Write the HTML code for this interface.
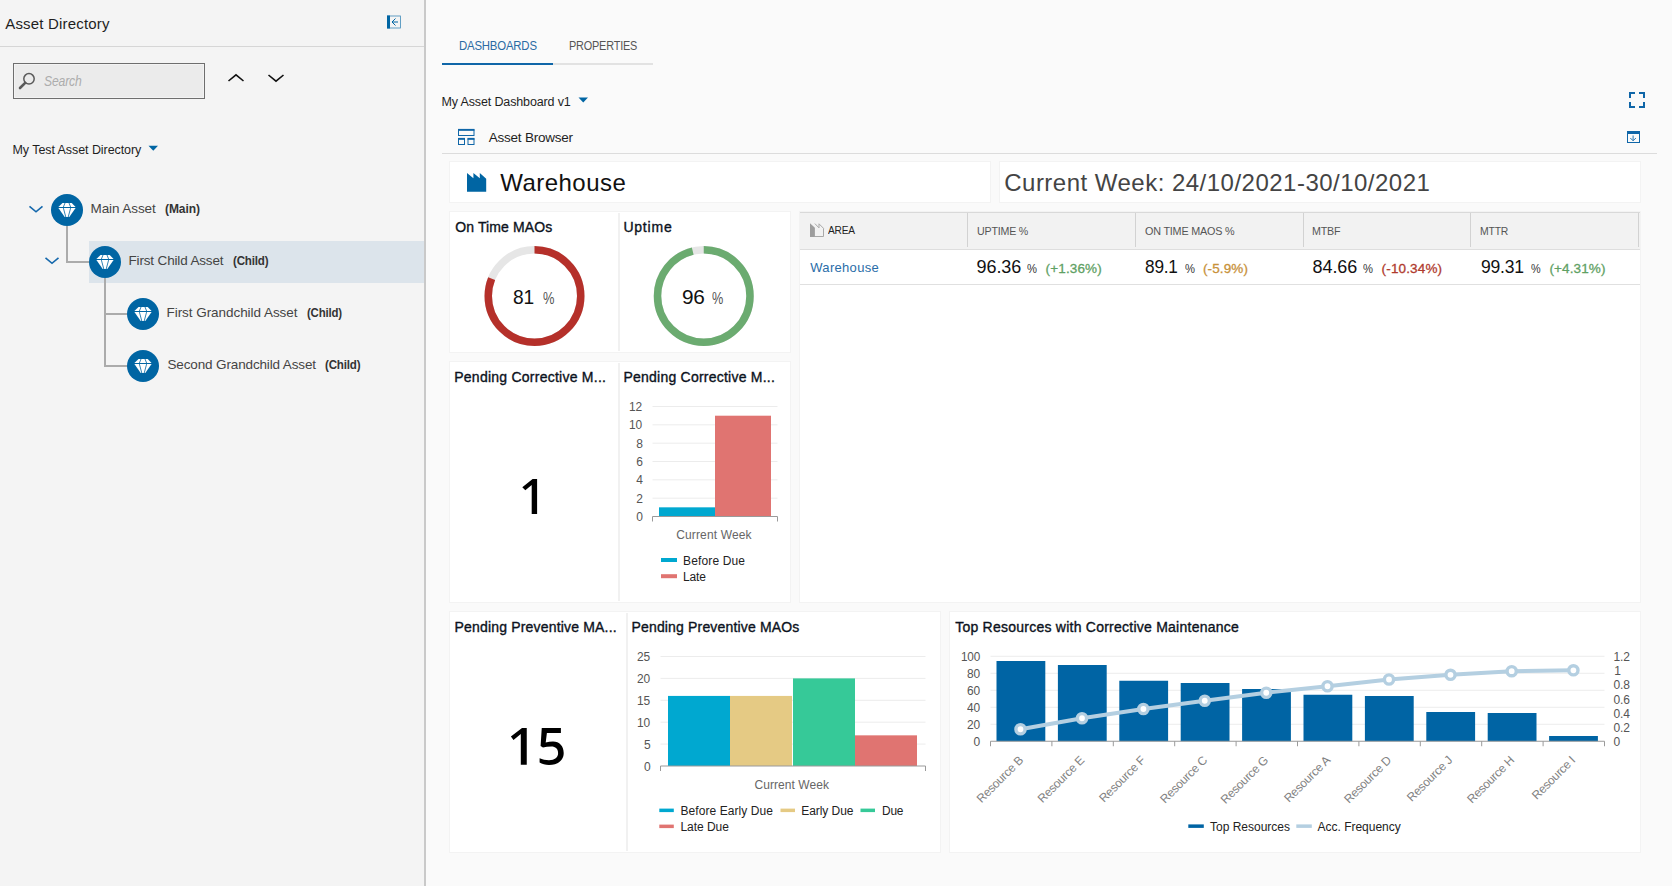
<!DOCTYPE html>
<html><head><meta charset="utf-8"><title>Asset Directory</title>
<style>
html,body{margin:0;padding:0}
body{width:1672px;height:886px;position:relative;overflow:hidden;background:#fafafa;font-family:"Liberation Sans", sans-serif}
.t{position:absolute;white-space:pre;margin:0;padding:0}
.b{position:absolute}
.card{position:absolute;background:#fff;box-sizing:border-box;border:1px solid #f3f3f3}
</style></head><body>
<div class="b" style="left:0;top:0;width:424px;height:886px;background:#f4f4f4"></div>
<div class="b" style="left:424px;top:0;width:2px;height:886px;background:#c9c9c9"></div>
<div class="b" style="left:0;top:46px;width:424px;height:1px;background:#d6d6d6"></div>
<div class="b" style="left:13px;top:63px;width:192px;height:36px;box-sizing:border-box;border:1px solid #6e6e6e;background:#ebebeb;box-shadow:inset 0 0 0 1px #f3f3f3"></div>
<div class="b" style="left:89px;top:241px;width:335px;height:42px;background:#dce4eb"></div>
<div class="b" style="left:442px;top:63px;width:111px;height:2px;background:#0f66a8"></div>
<div class="b" style="left:553px;top:63px;width:100px;height:2px;background:#e2e2e2"></div>
<div class="b" style="left:442px;top:153px;width:1215px;height:1px;background:#dcdcdc"></div>
<div class="card" style="left:449px;top:161px;width:542px;height:42px"></div>
<div class="card" style="left:999px;top:161px;width:642px;height:42px"></div>
<div class="card" style="left:449px;top:211px;width:342px;height:142px"></div>
<div class="card" style="left:799px;top:211px;width:842px;height:392px"></div>
<div class="card" style="left:449px;top:361px;width:342px;height:242px"></div>
<div class="card" style="left:449px;top:611px;width:492px;height:242px"></div>
<div class="card" style="left:949px;top:611px;width:692px;height:242px"></div>
<div class="b" style="left:618px;top:213px;width:2px;height:138px;background:#f1f1f1"></div>
<div class="b" style="left:618px;top:363px;width:2px;height:238px;background:#f1f1f1"></div>
<div class="b" style="left:626px;top:613px;width:2px;height:238px;background:#f1f1f1"></div>
<div class="b" style="left:800px;top:212px;width:840px;height:1px;background:#d9d9d9"></div>
<div class="b" style="left:800px;top:213px;width:840px;height:36px;background:#f2f2f2"></div>
<div class="b" style="left:800px;top:249px;width:840px;height:1px;background:#dedede"></div>
<div class="b" style="left:800px;top:284px;width:840px;height:1px;background:#e0e0e0"></div>
<div class="b" style="left:967px;top:213px;width:1px;height:34px;background:#d2d2d2"></div>
<div class="b" style="left:1135px;top:213px;width:1px;height:34px;background:#d2d2d2"></div>
<div class="b" style="left:1303px;top:213px;width:1px;height:34px;background:#d2d2d2"></div>
<div class="b" style="left:1470px;top:213px;width:1px;height:34px;background:#d2d2d2"></div>
<div class="b" style="left:1638px;top:213px;width:1px;height:34px;background:#d2d2d2"></div>
<svg class="b" style="left:0;top:0" width="1672" height="886" viewBox="0 0 1672 886">
<g fill="none" stroke="#0065a3"><rect x="387.5" y="16" width="13" height="12" stroke-width="0.8" opacity="0.75"/><rect x="387" y="15.5" width="3" height="13" fill="#0065a3" stroke="none"/><path d="M398 22H392.5M395.5 18.5L392 22L395.5 25.5" stroke-width="1"/></g>
<g fill="none" stroke="#5a5a5a" stroke-linecap="round"><circle cx="29" cy="78.8" r="5.2" stroke-width="1.5"/><path d="M25.2 82.8L20 88" stroke-width="2.6"/></g>
<path d="M228.5 81L236 74.8L243.5 81" fill="none" stroke="#111" stroke-width="1.6"/>
<path d="M268.5 75L276 81.2L283.5 75" fill="none" stroke="#111" stroke-width="1.6"/>
<path d="M148.5 145.8H158L153.25 150.8Z" fill="#0065a3"/>
<path d="M578.5 97.5H588L583.25 102.5Z" fill="#0065a3"/>
<g fill="none" stroke="#ababab" stroke-width="2"><path d="M67 226V262H89"/><path d="M105 278V366H127M105 314H127"/></g>
<g fill="none" stroke="#1568ac" stroke-width="1.6"><path d="M29.5 206.3L36 211.8L42.5 206.3"/><path d="M45.5 257.8L52 263.3L58.5 257.8"/></g>
<circle cx="67" cy="210" r="16" fill="#0065a3"/>
<g transform="translate(0 0)" fill="#fff"><path d="M62.5 203H71.7L75.6 207H58.4Z"/><path d="M58.4 208.1H75.6L69.3 217.1H64.7Z"/><g stroke="#0065a3" stroke-width="0.9" fill="none" opacity="0.9"><path d="M65 203L63.4 207M69 203L70.6 207M63.4 208.1L65.8 217.1M70.6 208.1L68.2 217.1"/></g></g>
<circle cx="105" cy="262" r="16" fill="#0065a3"/>
<g transform="translate(38 52)" fill="#fff"><path d="M62.5 203H71.7L75.6 207H58.4Z"/><path d="M58.4 208.1H75.6L69.3 217.1H64.7Z"/><g stroke="#0065a3" stroke-width="0.9" fill="none" opacity="0.9"><path d="M65 203L63.4 207M69 203L70.6 207M63.4 208.1L65.8 217.1M70.6 208.1L68.2 217.1"/></g></g>
<circle cx="143" cy="314" r="16" fill="#0065a3"/>
<g transform="translate(76 104)" fill="#fff"><path d="M62.5 203H71.7L75.6 207H58.4Z"/><path d="M58.4 208.1H75.6L69.3 217.1H64.7Z"/><g stroke="#0065a3" stroke-width="0.9" fill="none" opacity="0.9"><path d="M65 203L63.4 207M69 203L70.6 207M63.4 208.1L65.8 217.1M70.6 208.1L68.2 217.1"/></g></g>
<circle cx="143" cy="366" r="16" fill="#0065a3"/>
<g transform="translate(76 156)" fill="#fff"><path d="M62.5 203H71.7L75.6 207H58.4Z"/><path d="M58.4 208.1H75.6L69.3 217.1H64.7Z"/><g stroke="#0065a3" stroke-width="0.9" fill="none" opacity="0.9"><path d="M65 203L63.4 207M69 203L70.6 207M63.4 208.1L65.8 217.1M70.6 208.1L68.2 217.1"/></g></g>
<g fill="none" stroke="#0f66a8" stroke-width="2"><path d="M1630 98V93H1635M1639 93H1644V98M1644 102V107H1639M1635 107H1630V102"/></g>
<g fill="none" stroke="#0f66a8"><rect x="1627.5" y="131.5" width="12" height="11" stroke-width="1"/><rect x="1627" y="131" width="13" height="3" fill="#0f66a8" stroke="none"/><path d="M1633.1 135.5V140.5M1630.3 138L1633.1 140.8L1635.9 138" stroke-width="0.9"/></g>
<g fill="none" stroke="#0f66a8" stroke-width="1"><rect x="458.5" y="130" width="15.5" height="5.5"/><path d="M458 129.8H474.5" stroke-width="1.8"/><rect x="458.5" y="139" width="6" height="5.5"/><path d="M458 138.8H465" stroke-width="1.8"/><rect x="468" y="139" width="6" height="5.5"/><path d="M467.5 138.8H474.5" stroke-width="1.8"/></g>
<path d="M467 173L473.4 178.2V173L479.8 178.2V173L486.2 178.8V191.8H467Z" fill="#0065a3"/>
<path d="M814.9 223.6L819 227.9V223.8L823.5 228.3V236.5H814.5" fill="none" stroke="#a9a9a9" stroke-width="1"/><path d="M810 223.3L814.9 227.8V237H810Z" fill="#9d9d9d"/>
<circle cx="534.5" cy="296" r="46.25" fill="none" stroke="#e6e6e6" stroke-width="7.5"/>
<circle cx="534.5" cy="296" r="46.25" fill="none" stroke="#b5302a" stroke-width="7.5" stroke-dasharray="235.38 290.60" transform="rotate(-90 534.5 296)"/>
<circle cx="703.75" cy="296" r="46.25" fill="none" stroke="#e6e6e6" stroke-width="7.5"/>
<circle cx="703.75" cy="296" r="46.25" fill="none" stroke="#6bab70" stroke-width="7.5" stroke-dasharray="278.97 290.60" transform="rotate(-90 703.75 296)"/>
<path d="M652.5 498.17H777.5" stroke="#ececec" stroke-width="1"/>
<path d="M652.5 479.83H777.5" stroke="#ececec" stroke-width="1"/>
<path d="M652.5 461.50H777.5" stroke="#ececec" stroke-width="1"/>
<path d="M652.5 443.17H777.5" stroke="#ececec" stroke-width="1"/>
<path d="M652.5 424.83H777.5" stroke="#ececec" stroke-width="1"/>
<path d="M652.5 406.50H777.5" stroke="#ececec" stroke-width="1"/>
<rect x="659" y="507.33" width="56" height="9.17" fill="#00a8d0"/>
<rect x="715" y="415.70" width="56" height="100.8" fill="#e07471"/>
<path d="M652.5 521.5V516.5H777.5V521.5" fill="none" stroke="#9a9a9a" stroke-width="1"/>
<rect x="661" y="558" width="16" height="4" fill="#00a8d0"/><rect x="661" y="574.2" width="16" height="4" fill="#e07471"/>
<path d="M660.5 744.10H925.5" stroke="#ececec" stroke-width="1"/>
<path d="M660.5 722.20H925.5" stroke="#ececec" stroke-width="1"/>
<path d="M660.5 700.30H925.5" stroke="#ececec" stroke-width="1"/>
<path d="M660.5 678.40H925.5" stroke="#ececec" stroke-width="1"/>
<path d="M660.5 656.50H925.5" stroke="#ececec" stroke-width="1"/>
<rect x="668" y="695.92" width="62" height="70.08" fill="#00a8d0"/>
<rect x="730" y="695.92" width="62" height="70.08" fill="#e5ca84"/>
<rect x="793" y="678.40" width="62" height="87.60" fill="#36c998"/>
<rect x="855" y="735.34" width="62" height="30.66" fill="#e07471"/>
<path d="M660.5 771V766H925.5V771" fill="none" stroke="#9a9a9a" stroke-width="1"/>
<rect x="659.3" y="808.6" width="14.5" height="3.5" fill="#00a8d0"/><rect x="780.5" y="808.6" width="14.5" height="3.5" fill="#e5ca84"/><rect x="860.5" y="808.6" width="14.5" height="3.5" fill="#36c998"/><rect x="659.3" y="824.6" width="14.5" height="3.5" fill="#e07471"/>
<path d="M990.5 724.25H1604.5" stroke="#ececec" stroke-width="1"/>
<path d="M990.5 707.25H1604.5" stroke="#ececec" stroke-width="1"/>
<path d="M990.5 690.25H1604.5" stroke="#ececec" stroke-width="1"/>
<path d="M990.5 673.25H1604.5" stroke="#ececec" stroke-width="1"/>
<path d="M990.5 656.25H1604.5" stroke="#ececec" stroke-width="1"/>
<rect x="996.50" y="661" width="48.8" height="80.25" fill="#0064a4"/>
<rect x="1057.90" y="665" width="48.8" height="76.25" fill="#0064a4"/>
<rect x="1119.30" y="680.75" width="48.8" height="60.50" fill="#0064a4"/>
<rect x="1180.70" y="683" width="48.8" height="58.25" fill="#0064a4"/>
<rect x="1242.10" y="689" width="48.8" height="52.25" fill="#0064a4"/>
<rect x="1303.50" y="694.75" width="48.8" height="46.50" fill="#0064a4"/>
<rect x="1364.90" y="696" width="48.8" height="45.25" fill="#0064a4"/>
<rect x="1426.30" y="712" width="48.8" height="29.25" fill="#0064a4"/>
<rect x="1487.70" y="713" width="48.8" height="28.25" fill="#0064a4"/>
<rect x="1549.10" y="736" width="48.8" height="5.25" fill="#0064a4"/>
<path d="M990.5 741.25H1604.5M990.50 741.25v5M1051.90 741.25v5M1113.30 741.25v5M1174.70 741.25v5M1236.10 741.25v5M1297.50 741.25v5M1358.90 741.25v5M1420.30 741.25v5M1481.70 741.25v5M1543.10 741.25v5M1604.50 741.25v5" fill="none" stroke="#9a9a9a" stroke-width="1"/>
<polyline points="1020.5,729.25 1082,718.25 1143.4,709 1204.75,700.75 1266.25,692.75 1327.5,686.25 1389,679.5 1450.5,674.8 1511.7,671.2 1573.4,670.3" fill="none" stroke="#b4cfe1" stroke-width="4" stroke-linejoin="round"/>
<circle cx="1020.5" cy="729.25" r="4.6" fill="#fff" stroke="#b4cfe1" stroke-width="3.4"/>
<circle cx="1082" cy="718.25" r="4.6" fill="#fff" stroke="#b4cfe1" stroke-width="3.4"/>
<circle cx="1143.4" cy="709" r="4.6" fill="#fff" stroke="#b4cfe1" stroke-width="3.4"/>
<circle cx="1204.75" cy="700.75" r="4.6" fill="#fff" stroke="#b4cfe1" stroke-width="3.4"/>
<circle cx="1266.25" cy="692.75" r="4.6" fill="#fff" stroke="#b4cfe1" stroke-width="3.4"/>
<circle cx="1327.5" cy="686.25" r="4.6" fill="#fff" stroke="#b4cfe1" stroke-width="3.4"/>
<circle cx="1389" cy="679.5" r="4.6" fill="#fff" stroke="#b4cfe1" stroke-width="3.4"/>
<circle cx="1450.5" cy="674.8" r="4.6" fill="#fff" stroke="#b4cfe1" stroke-width="3.4"/>
<circle cx="1511.7" cy="671.2" r="4.6" fill="#fff" stroke="#b4cfe1" stroke-width="3.4"/>
<circle cx="1573.4" cy="670.3" r="4.6" fill="#fff" stroke="#b4cfe1" stroke-width="3.4"/>
<rect x="1188.3" y="824.4" width="15.5" height="3.5" fill="#0064a4"/><rect x="1296.3" y="824.4" width="15.5" height="3.5" fill="#b4cfe1"/>
<path d="M531.7 514V484.9L525.3 490.2L522.3 487.3L532.6 479H537.1V514Z" fill="#000"/>
<path d="M520.8 764.8V734.1L513.5 740L510.9 736.5L522 728H526.75V764.8Z" fill="#000"/>
<path d="M541.76 728H560.9V732.9H546.9L545.7 742.4C548 741.8 550.5 741.5 553 741.5C559.5 741.5 563.7 746 563.7 753.1C563.7 760.5 558 765 549 765C545.3 765 542 764.2 539.6 762.6V758.2C542.2 759.5 545.8 760.2 549 760.2C554.8 760.2 558.1 757.8 558.1 753.1C558.1 748.8 555.5 746.5 551.3 746.5C548.3 746.5 545.5 746.9 542.95 747.55L540.6 745.95Z" fill="#000"/>
</svg>
<div class="t" style="left:823.50px;top:750.00px;width:200px;text-align:right;font-size:12px;line-height:14px;color:#828282;transform:rotate(-45deg);transform-origin:100% 11px;letter-spacing:-0.25px">Resource B</div>
<div class="t" style="left:884.90px;top:750.00px;width:200px;text-align:right;font-size:12px;line-height:14px;color:#828282;transform:rotate(-45deg);transform-origin:100% 11px;letter-spacing:-0.25px">Resource E</div>
<div class="t" style="left:946.30px;top:750.00px;width:200px;text-align:right;font-size:12px;line-height:14px;color:#828282;transform:rotate(-45deg);transform-origin:100% 11px;letter-spacing:-0.25px">Resource F</div>
<div class="t" style="left:1007.70px;top:750.00px;width:200px;text-align:right;font-size:12px;line-height:14px;color:#828282;transform:rotate(-45deg);transform-origin:100% 11px;letter-spacing:-0.25px">Resource C</div>
<div class="t" style="left:1069.10px;top:750.00px;width:200px;text-align:right;font-size:12px;line-height:14px;color:#828282;transform:rotate(-45deg);transform-origin:100% 11px;letter-spacing:-0.25px">Resource G</div>
<div class="t" style="left:1130.50px;top:750.00px;width:200px;text-align:right;font-size:12px;line-height:14px;color:#828282;transform:rotate(-45deg);transform-origin:100% 11px;letter-spacing:-0.25px">Resource A</div>
<div class="t" style="left:1191.90px;top:750.00px;width:200px;text-align:right;font-size:12px;line-height:14px;color:#828282;transform:rotate(-45deg);transform-origin:100% 11px;letter-spacing:-0.25px">Resource D</div>
<div class="t" style="left:1253.30px;top:750.00px;width:200px;text-align:right;font-size:12px;line-height:14px;color:#828282;transform:rotate(-45deg);transform-origin:100% 11px;letter-spacing:-0.25px">Resource J</div>
<div class="t" style="left:1314.70px;top:750.00px;width:200px;text-align:right;font-size:12px;line-height:14px;color:#828282;transform:rotate(-45deg);transform-origin:100% 11px;letter-spacing:-0.25px">Resource H</div>
<div class="t" style="left:1376.10px;top:750.00px;width:200px;text-align:right;font-size:12px;line-height:14px;color:#828282;transform:rotate(-45deg);transform-origin:100% 11px;letter-spacing:-0.25px">Resource I</div>
<div class="t" style="left:5.20px;top:15.00px;font-size:15px;line-height:17px;font-weight:400;font-style:normal;color:#1f1f1f;letter-spacing:0.186px;">Asset Directory</div>
<div class="t" style="left:44.20px;top:73.00px;font-size:14px;line-height:16px;font-weight:400;font-style:italic;color:#adadad;letter-spacing:-0.200px;transform:scaleX(0.8698);transform-origin:0 0;">Search</div>
<div class="t" style="left:12.50px;top:143.00px;font-size:12.5px;line-height:14px;font-weight:400;font-style:normal;color:#1f1f1f;letter-spacing:-0.069px;">My Test Asset Directory</div>
<div class="t" style="left:90.50px;top:201.00px;font-size:13.5px;line-height:15px;font-weight:400;font-style:normal;color:#444;letter-spacing:-0.086px;">Main Asset</div>
<div class="t" style="left:165.00px;top:202.00px;font-size:12px;line-height:14px;font-weight:700;font-style:normal;color:#333;letter-spacing:-0.066px;">(Main)</div>
<div class="t" style="left:128.50px;top:253.00px;font-size:13.5px;line-height:15px;font-weight:400;font-style:normal;color:#444;letter-spacing:-0.157px;">First Child Asset</div>
<div class="t" style="left:233.00px;top:254.00px;font-size:12px;line-height:14px;font-weight:700;font-style:normal;color:#333;letter-spacing:-0.200px;transform:scaleX(0.9649);transform-origin:0 0;">(Child)</div>
<div class="t" style="left:166.50px;top:305.00px;font-size:13.5px;line-height:15px;font-weight:400;font-style:normal;color:#444;letter-spacing:-0.050px;">First Grandchild Asset</div>
<div class="t" style="left:307.00px;top:306.00px;font-size:12px;line-height:14px;font-weight:700;font-style:normal;color:#333;letter-spacing:-0.200px;transform:scaleX(0.9513);transform-origin:0 0;">(Child)</div>
<div class="t" style="left:167.50px;top:357.00px;font-size:13.5px;line-height:15px;font-weight:400;font-style:normal;color:#444;letter-spacing:-0.140px;">Second Grandchild Asset</div>
<div class="t" style="left:325.00px;top:358.00px;font-size:12px;line-height:14px;font-weight:700;font-style:normal;color:#333;letter-spacing:-0.200px;transform:scaleX(0.9649);transform-origin:0 0;">(Child)</div>
<div class="t" style="left:458.50px;top:39.00px;font-size:12px;line-height:14px;font-weight:400;font-style:normal;color:#2b6ba3;letter-spacing:-0.200px;transform:scaleX(0.9487);transform-origin:0 0;">DASHBOARDS</div>
<div class="t" style="left:569.00px;top:39.00px;font-size:12px;line-height:14px;font-weight:400;font-style:normal;color:#555;letter-spacing:-0.200px;transform:scaleX(0.9067);transform-origin:0 0;">PROPERTIES</div>
<div class="t" style="left:441.50px;top:95.00px;font-size:12.5px;line-height:14px;font-weight:400;font-style:normal;color:#1f1f1f;letter-spacing:-0.137px;">My Asset Dashboard v1</div>
<div class="t" style="left:488.80px;top:130.00px;font-size:13.5px;line-height:15px;font-weight:400;font-style:normal;color:#1f1f1f;letter-spacing:-0.236px;">Asset Browser</div>
<div class="t" style="left:500.25px;top:169.00px;font-size:24px;line-height:27px;font-weight:400;font-style:normal;color:#111;letter-spacing:0.457px;">Warehouse</div>
<div class="t" style="left:1004.25px;top:169.00px;font-size:24px;line-height:27px;font-weight:400;font-style:normal;color:#444;letter-spacing:0.483px;">Current Week: 24/10/2021-30/10/2021</div>
<div class="t" style="left:455.25px;top:219.00px;font-size:14px;line-height:16px;font-weight:400;font-style:normal;color:#0c1220;letter-spacing:0.119px;-webkit-text-stroke:0.35px currentColor;">On Time MAOs</div>
<div class="t" style="left:623.40px;top:219.00px;font-size:14px;line-height:16px;font-weight:400;font-style:normal;color:#0c1220;letter-spacing:0.788px;-webkit-text-stroke:0.35px currentColor;">Uptime</div>
<div class="t" style="left:512.50px;top:285.00px;font-size:21px;line-height:23px;font-weight:400;font-style:normal;color:#111;letter-spacing:-0.200px;transform:scaleX(0.9120);transform-origin:0 0;">81</div>
<div class="t" style="left:542.75px;top:290.00px;font-size:16px;line-height:17px;font-weight:400;font-style:normal;color:#555;letter-spacing:0.000px;transform:scaleX(0.804);transform-origin:0 0;">%</div>
<div class="t" style="left:681.50px;top:285.00px;font-size:21px;line-height:23px;font-weight:400;font-style:normal;color:#111;letter-spacing:-0.200px;transform:scaleX(0.9898);transform-origin:0 0;">96</div>
<div class="t" style="left:711.90px;top:290.00px;font-size:16px;line-height:17px;font-weight:400;font-style:normal;color:#555;letter-spacing:0.000px;transform:scaleX(0.793);transform-origin:0 0;">%</div>
<div class="t" style="left:828.00px;top:224.00px;font-size:10.5px;line-height:12px;font-weight:400;font-style:normal;color:#222;letter-spacing:-0.200px;transform:scaleX(0.9646);transform-origin:0 0;">AREA</div>
<div class="t" style="left:976.50px;top:225.00px;font-size:11px;line-height:12px;font-weight:400;font-style:normal;color:#555;letter-spacing:-0.200px;transform:scaleX(0.9678);transform-origin:0 0;">UPTIME %</div>
<div class="t" style="left:1144.50px;top:225.00px;font-size:11px;line-height:12px;font-weight:400;font-style:normal;color:#555;letter-spacing:-0.200px;transform:scaleX(0.9811);transform-origin:0 0;">ON TIME MAOS %</div>
<div class="t" style="left:1311.60px;top:225.00px;font-size:11px;line-height:12px;font-weight:400;font-style:normal;color:#555;letter-spacing:-0.200px;transform:scaleX(0.9723);transform-origin:0 0;">MTBF</div>
<div class="t" style="left:1479.90px;top:225.00px;font-size:11px;line-height:12px;font-weight:400;font-style:normal;color:#555;letter-spacing:-0.200px;transform:scaleX(0.9450);transform-origin:0 0;">MTTR</div>
<div class="t" style="left:810.25px;top:260.00px;font-size:13px;line-height:15px;font-weight:400;font-style:normal;color:#2a6da8;letter-spacing:0.310px;">Warehouse</div>
<div class="t" style="left:976.50px;top:257.00px;font-size:18px;line-height:20px;font-weight:400;font-style:normal;color:#111;letter-spacing:-0.071px;">96.36</div>
<div class="t" style="left:1026.90px;top:261.00px;font-size:13px;line-height:15px;font-weight:400;font-style:normal;color:#333;letter-spacing:0.000px;transform:scaleX(0.862);transform-origin:0 0;">%</div>
<div class="t" style="left:1045.60px;top:261.00px;font-size:13.5px;line-height:15px;font-weight:400;font-style:normal;color:#5fa164;letter-spacing:0.142px;-webkit-text-stroke:0.3px currentColor;">(+1.36%)</div>
<div class="t" style="left:1144.50px;top:257.00px;font-size:18px;line-height:20px;font-weight:400;font-style:normal;color:#111;letter-spacing:-0.200px;transform:scaleX(0.9558);transform-origin:0 0;">89.1</div>
<div class="t" style="left:1184.90px;top:261.00px;font-size:13px;line-height:15px;font-weight:400;font-style:normal;color:#333;letter-spacing:0.000px;transform:scaleX(0.862);transform-origin:0 0;">%</div>
<div class="t" style="left:1203.00px;top:261.00px;font-size:13.5px;line-height:15px;font-weight:400;font-style:normal;color:#c8913a;letter-spacing:0.106px;-webkit-text-stroke:0.3px currentColor;">(-5.9%)</div>
<div class="t" style="left:1312.50px;top:257.00px;font-size:18px;line-height:20px;font-weight:400;font-style:normal;color:#111;letter-spacing:-0.071px;">84.66</div>
<div class="t" style="left:1362.90px;top:261.00px;font-size:13px;line-height:15px;font-weight:400;font-style:normal;color:#333;letter-spacing:0.000px;transform:scaleX(0.862);transform-origin:0 0;">%</div>
<div class="t" style="left:1381.60px;top:261.00px;font-size:13.5px;line-height:15px;font-weight:400;font-style:normal;color:#b03a2e;letter-spacing:0.153px;-webkit-text-stroke:0.3px currentColor;">(-10.34%)</div>
<div class="t" style="left:1480.50px;top:257.00px;font-size:18px;line-height:20px;font-weight:400;font-style:normal;color:#111;letter-spacing:-0.200px;transform:scaleX(0.9744);transform-origin:0 0;">99.31</div>
<div class="t" style="left:1531.00px;top:261.00px;font-size:13px;line-height:15px;font-weight:400;font-style:normal;color:#333;letter-spacing:0.000px;transform:scaleX(0.833);transform-origin:0 0;">%</div>
<div class="t" style="left:1549.50px;top:261.00px;font-size:13.5px;line-height:15px;font-weight:400;font-style:normal;color:#5fa164;letter-spacing:0.106px;-webkit-text-stroke:0.3px currentColor;">(+4.31%)</div>
<div class="t" style="left:454.25px;top:369.00px;font-size:14px;line-height:16px;font-weight:400;font-style:normal;color:#0c1220;letter-spacing:0.244px;-webkit-text-stroke:0.35px currentColor;">Pending Corrective M...</div>
<div class="t" style="left:623.40px;top:369.00px;font-size:14px;line-height:16px;font-weight:400;font-style:normal;color:#0c1220;letter-spacing:0.237px;-webkit-text-stroke:0.35px currentColor;">Pending Corrective M...</div>
<div class="t" style="left:629.35px;top:400.00px;font-size:12px;line-height:14px;font-weight:400;font-style:normal;color:#555;letter-spacing:-0.200px;transform:scaleX(0.9945);transform-origin:0 0;">12</div>
<div class="t" style="left:629.35px;top:418.00px;font-size:12px;line-height:14px;font-weight:400;font-style:normal;color:#555;letter-spacing:-0.200px;transform:scaleX(0.9945);transform-origin:0 0;">10</div>
<div class="t" style="left:636.35px;top:437.00px;font-size:12px;line-height:14px;font-weight:400;font-style:normal;color:#555;letter-spacing:0.000px;">8</div>
<div class="t" style="left:636.35px;top:455.00px;font-size:12px;line-height:14px;font-weight:400;font-style:normal;color:#555;letter-spacing:0.000px;">6</div>
<div class="t" style="left:636.35px;top:473.00px;font-size:12px;line-height:14px;font-weight:400;font-style:normal;color:#555;letter-spacing:0.000px;">4</div>
<div class="t" style="left:636.35px;top:492.00px;font-size:12px;line-height:14px;font-weight:400;font-style:normal;color:#555;letter-spacing:0.000px;">2</div>
<div class="t" style="left:636.35px;top:510.00px;font-size:12px;line-height:14px;font-weight:400;font-style:normal;color:#555;letter-spacing:0.000px;">0</div>
<div class="t" style="left:676.25px;top:528.00px;font-size:12px;line-height:14px;font-weight:400;font-style:normal;color:#666;letter-spacing:0.131px;">Current Week</div>
<div class="t" style="left:683.10px;top:554.00px;font-size:12px;line-height:14px;font-weight:400;font-style:normal;color:#222;letter-spacing:0.125px;">Before Due</div>
<div class="t" style="left:683.10px;top:570.00px;font-size:12px;line-height:14px;font-weight:400;font-style:normal;color:#222;letter-spacing:-0.177px;">Late</div>
<div class="t" style="left:454.50px;top:619.00px;font-size:14px;line-height:16px;font-weight:400;font-style:normal;color:#0c1220;letter-spacing:0.181px;-webkit-text-stroke:0.35px currentColor;">Pending Preventive MA...</div>
<div class="t" style="left:631.50px;top:619.00px;font-size:14px;line-height:16px;font-weight:400;font-style:normal;color:#0c1220;letter-spacing:0.162px;-webkit-text-stroke:0.35px currentColor;">Pending Preventive MAOs</div>
<div class="t" style="left:637.10px;top:650.00px;font-size:12px;line-height:14px;font-weight:400;font-style:normal;color:#555;letter-spacing:-0.200px;transform:scaleX(0.9945);transform-origin:0 0;">25</div>
<div class="t" style="left:637.10px;top:672.00px;font-size:12px;line-height:14px;font-weight:400;font-style:normal;color:#555;letter-spacing:-0.200px;transform:scaleX(0.9945);transform-origin:0 0;">20</div>
<div class="t" style="left:637.10px;top:694.00px;font-size:12px;line-height:14px;font-weight:400;font-style:normal;color:#555;letter-spacing:-0.200px;transform:scaleX(0.9945);transform-origin:0 0;">15</div>
<div class="t" style="left:637.10px;top:716.00px;font-size:12px;line-height:14px;font-weight:400;font-style:normal;color:#555;letter-spacing:-0.200px;transform:scaleX(0.9945);transform-origin:0 0;">10</div>
<div class="t" style="left:644.10px;top:738.00px;font-size:12px;line-height:14px;font-weight:400;font-style:normal;color:#555;letter-spacing:0.000px;">5</div>
<div class="t" style="left:644.10px;top:760.00px;font-size:12px;line-height:14px;font-weight:400;font-style:normal;color:#555;letter-spacing:0.000px;">0</div>
<div class="t" style="left:754.50px;top:778.00px;font-size:12px;line-height:14px;font-weight:400;font-style:normal;color:#666;letter-spacing:0.063px;">Current Week</div>
<div class="t" style="left:680.50px;top:804.00px;font-size:12px;line-height:14px;font-weight:400;font-style:normal;color:#222;letter-spacing:0.070px;">Before Early Due</div>
<div class="t" style="left:801.25px;top:804.00px;font-size:12px;line-height:14px;font-weight:400;font-style:normal;color:#222;letter-spacing:-0.064px;">Early Due</div>
<div class="t" style="left:881.50px;top:804.00px;font-size:12px;line-height:14px;font-weight:400;font-style:normal;color:#222;letter-spacing:-0.200px;transform:scaleX(0.9913);transform-origin:0 0;">Due</div>
<div class="t" style="left:680.40px;top:820.00px;font-size:12px;line-height:14px;font-weight:400;font-style:normal;color:#222;letter-spacing:-0.033px;">Late Due</div>
<div class="t" style="left:955.20px;top:619.00px;font-size:14px;line-height:16px;font-weight:400;font-style:normal;color:#0c1220;letter-spacing:0.242px;-webkit-text-stroke:0.35px currentColor;">Top Resources with Corrective Maintenance</div>
<div class="t" style="left:960.50px;top:650.00px;font-size:12px;line-height:14px;font-weight:400;font-style:normal;color:#555;letter-spacing:-0.200px;transform:scaleX(0.9776);transform-origin:0 0;">100</div>
<div class="t" style="left:966.60px;top:667.00px;font-size:12px;line-height:14px;font-weight:400;font-style:normal;color:#555;letter-spacing:-0.200px;transform:scaleX(0.9945);transform-origin:0 0;">80</div>
<div class="t" style="left:966.60px;top:684.00px;font-size:12px;line-height:14px;font-weight:400;font-style:normal;color:#555;letter-spacing:-0.200px;transform:scaleX(0.9945);transform-origin:0 0;">60</div>
<div class="t" style="left:966.60px;top:701.00px;font-size:12px;line-height:14px;font-weight:400;font-style:normal;color:#555;letter-spacing:-0.200px;transform:scaleX(0.9945);transform-origin:0 0;">40</div>
<div class="t" style="left:966.60px;top:718.00px;font-size:12px;line-height:14px;font-weight:400;font-style:normal;color:#555;letter-spacing:-0.200px;transform:scaleX(0.9945);transform-origin:0 0;">20</div>
<div class="t" style="left:973.60px;top:735.00px;font-size:12px;line-height:14px;font-weight:400;font-style:normal;color:#555;letter-spacing:0.000px;">0</div>
<div class="t" style="left:1613.40px;top:650.00px;font-size:12px;line-height:14px;font-weight:400;font-style:normal;color:#555;letter-spacing:-0.104px;">1.2</div>
<div class="t" style="left:1614.20px;top:664.00px;font-size:12px;line-height:14px;font-weight:400;font-style:normal;color:#555;letter-spacing:0.000px;">1</div>
<div class="t" style="left:1613.40px;top:678.00px;font-size:12px;line-height:14px;font-weight:400;font-style:normal;color:#555;letter-spacing:-0.104px;">0.8</div>
<div class="t" style="left:1613.40px;top:693.00px;font-size:12px;line-height:14px;font-weight:400;font-style:normal;color:#555;letter-spacing:-0.104px;">0.6</div>
<div class="t" style="left:1613.40px;top:707.00px;font-size:12px;line-height:14px;font-weight:400;font-style:normal;color:#555;letter-spacing:-0.104px;">0.4</div>
<div class="t" style="left:1613.40px;top:721.00px;font-size:12px;line-height:14px;font-weight:400;font-style:normal;color:#555;letter-spacing:-0.104px;">0.2</div>
<div class="t" style="left:1613.40px;top:735.00px;font-size:12px;line-height:14px;font-weight:400;font-style:normal;color:#555;letter-spacing:0.000px;">0</div>
<div class="t" style="left:1210.00px;top:820.00px;font-size:12px;line-height:14px;font-weight:400;font-style:normal;color:#222;letter-spacing:-0.003px;">Top Resources</div>
<div class="t" style="left:1317.50px;top:820.00px;font-size:12px;line-height:14px;font-weight:400;font-style:normal;color:#222;letter-spacing:-0.009px;">Acc. Frequency</div>
</body></html>
